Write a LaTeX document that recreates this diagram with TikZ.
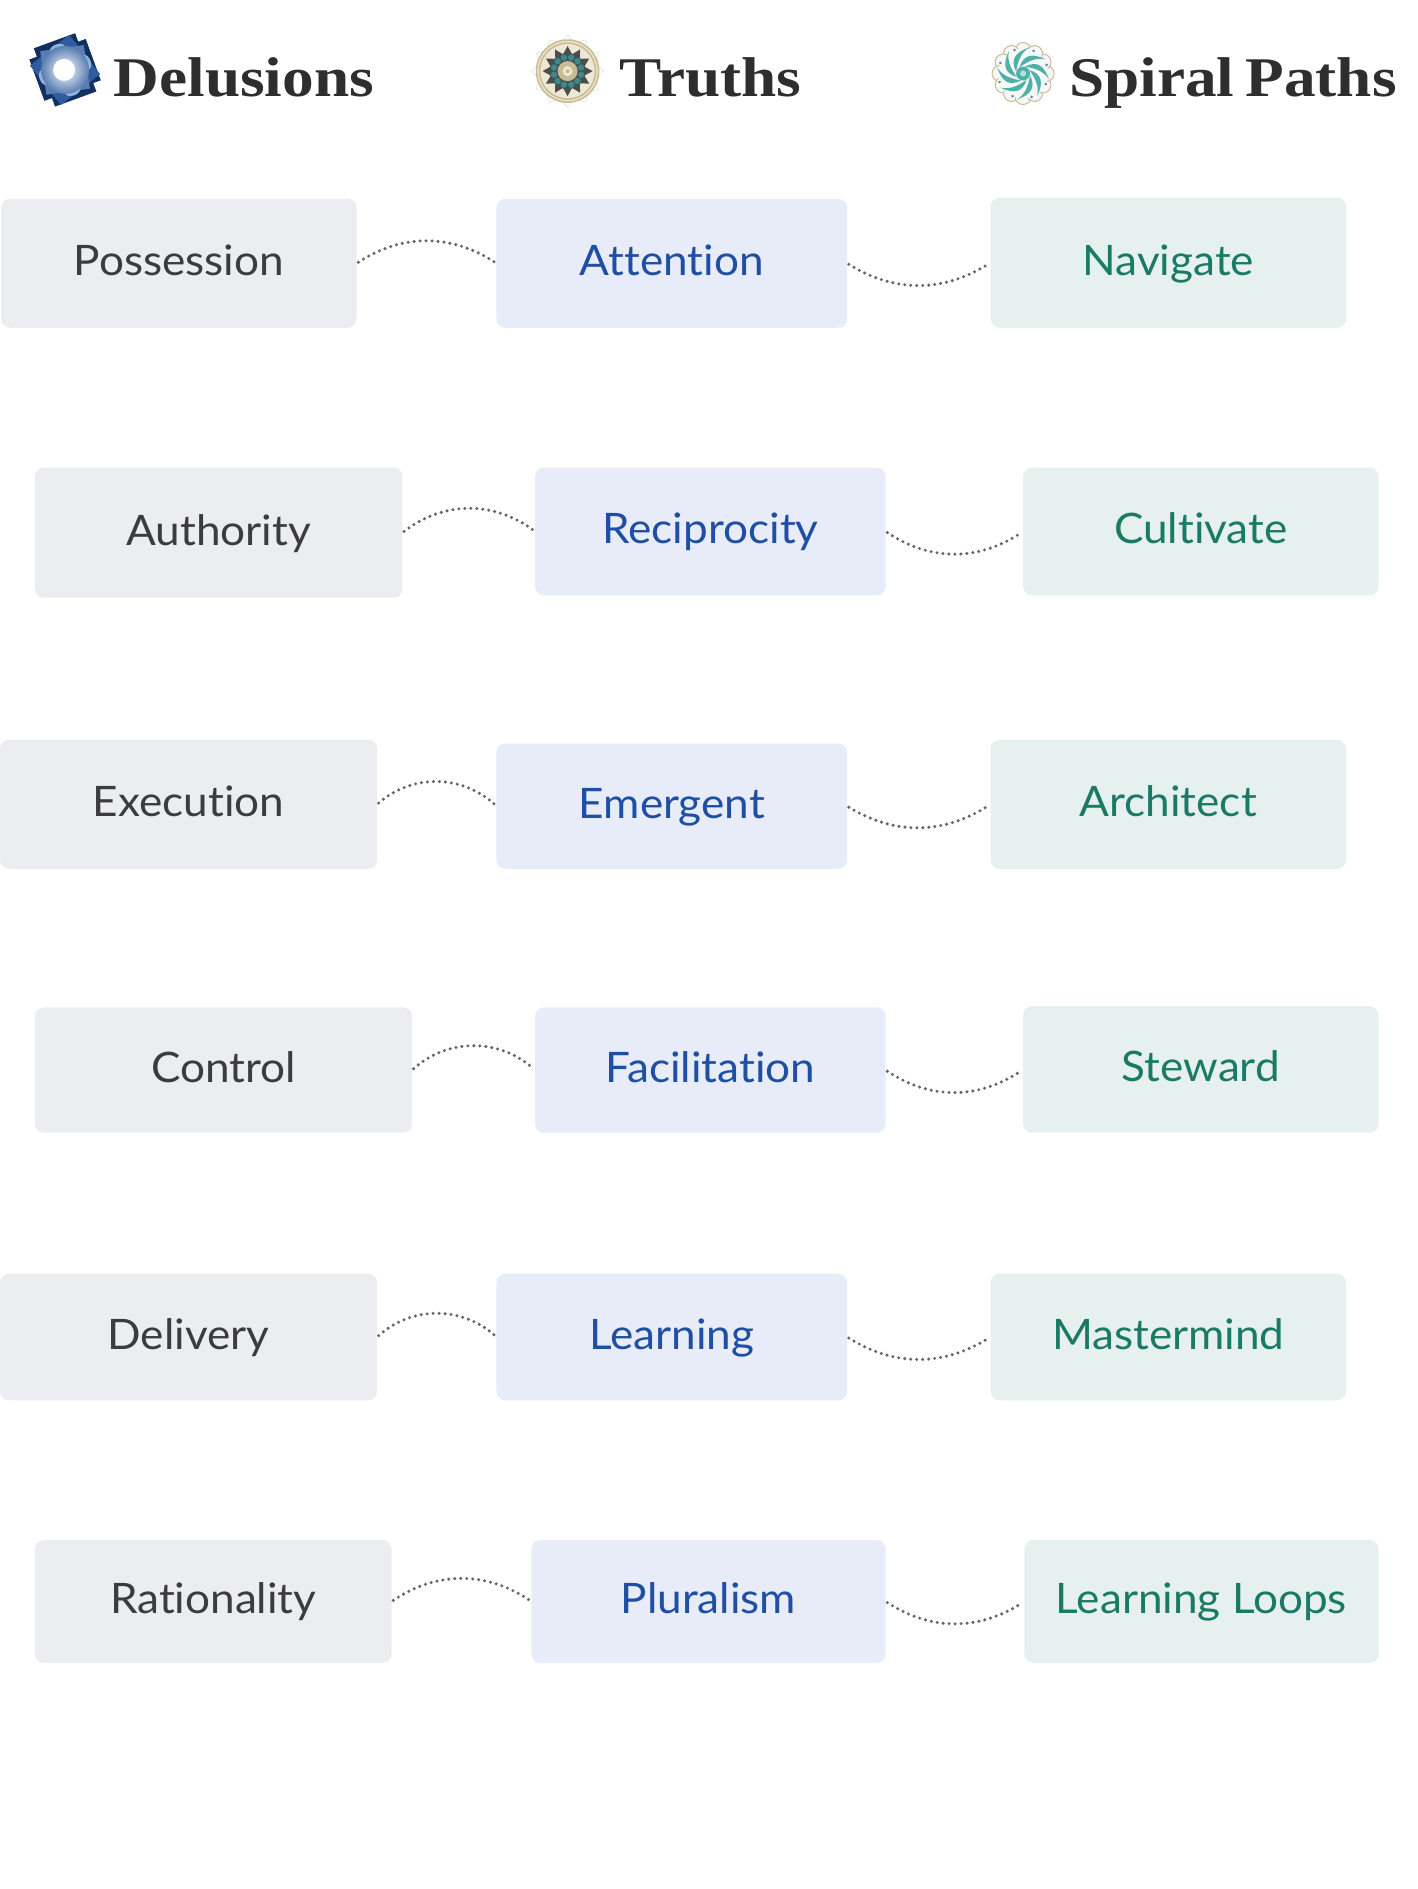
\documentclass[tikz,border=0pt]{standalone}
\usepackage{fontspec}
\setmainfont[FakeStretch=1.05,Ligatures=NoCommon]{Lato}
\newfontfamily\headfont[FakeStretch=1.13,WordSpace=0.7]{Liberation Serif}
\definecolor{inkgrey}{HTML}{3C3C40}
\definecolor{inkblue}{HTML}{1E4FA3}
\definecolor{inkgreen}{HTML}{1A7A66}
\definecolor{boxgrey}{HTML}{ECEDF1}
\definecolor{boxblue}{HTML}{E7ECF8}
\definecolor{boxgreen}{HTML}{E6F1EF}
\definecolor{gemdark}{HTML}{12305F}
\definecolor{gemmid}{HTML}{2F5C9E}
\definecolor{gemlight}{HTML}{8FB4E0}
\definecolor{sand}{HTML}{C9BC94}
\definecolor{sandpale}{HTML}{EDE7D3}
\definecolor{slate}{HTML}{4A4E50}
\definecolor{sea}{HTML}{3A8A88}
\definecolor{swirl}{HTML}{4FB0A8}
\tikzset{
  cell/.style={rounded corners=4.5pt, inner sep=0pt, outer sep=0pt,
    text height=16.2pt, text depth=3.8pt, font=\fontsize{21}{24}\selectfont},
  delusion/.style={cell, fill=boxgrey, text=inkgrey},
  truth/.style={cell, fill=boxblue, text=inkblue},
  spiral/.style={cell, fill=boxgreen, text=inkgreen},
  heading/.style={anchor=base west, inner sep=0pt, text=black!82, font=\headfont\bfseries\fontsize{28}{32}\selectfont},
  linkdots/.style={draw=black!60, line width=1.7pt, line cap=round, dash pattern=on 0pt off 3pt, shorten >=1pt, shorten <=1pt},
}
\newcommand{\boxat}[7]{% style, name, left, right, top, bottom, text
  \node[#1, minimum width={(#4-#3)*0.6025pt}, minimum height={(#6-#5)*0.6025pt}] (#2) at ({(#3+#4)/2},{(#5+#6)/2}) {#7};
}
\begin{document}
\begin{tikzpicture}[x=0.6025pt,y=-0.6025pt]
	\useasboundingbox (0,0) rectangle (1176,1567.6);

	% Headings
	\node[heading] (delusions) at (94,80) {Delusions};
	\node[heading] (truths) at (514,80) {Truths};
	\node[heading] (paths) at (887,80) {Spiral Paths};

	% Icon left
	\begin{scope}[shift={(54,58)},scale=0.83]
		\fill[gemdark, rotate=20] (-30,-22) rectangle (30,22);
		\fill[gemdark, rotate=20] (-22,-31) rectangle (22,31);
		\fill[gemmid, rotate=38] (-25,-25) rectangle (25,25);
		\fill[gemmid!80!white, rotate=8] (-22,-22) rectangle (22,22);
		\foreach \a in {20,110,200,290}
			\fill[gemlight, rotate=\a] (22,0) ellipse (5 and 8);
		\shade[inner color=white, outer color=gemmid!80!white] (0,0) circle (24);
		\fill[white] (-1,0) circle (11);
	\end{scope}

	% Icon middle
	\begin{scope}[shift={(471,59)},scale=0.83]
		\foreach \a in {0,30,...,330}
			\draw[black!10, rotate=\a] (0,-36) -- (10,-26) -- (-10,-26) -- cycle;
		\fill[sandpale] (0,0) circle (31);
		\draw[sand, line width=.8pt] (0,0) circle (31);
		\draw[sand, line width=.8pt] (0,0) circle (28);
		\foreach \a in {0,30,...,330}
			\fill[slate, rotate=\a] (0,-25) -- (6,-14) -- (-6,-14) -- cycle;
		\fill[slate] (0,0) circle (18);
		\foreach \a in {15,45,...,345}
			\fill[sea, rotate=\a] (0,-14) circle (3.2);
		\fill[sand] (0,0) circle (10);
		\fill[sandpale] (0,0) circle (5);
		\fill[sand] (0,0) circle (2);
	\end{scope}

	% Icon right
	\begin{scope}[shift={(849,61)},scale=0.83]
		\foreach \a in {0,30,...,330}
			\draw[sand, line width=.5pt, fill=black!3, rotate=\a] (0,-23) circle (8);
		\fill[black!3] (0,0) circle (25);
		\foreach \a in {0,45,...,315}
			\fill[swirl, rotate=\a] (2,-7) .. controls (14,-13) and (21,-8) .. (26,6) .. controls (20,-3) and (12,-5) .. (2,-7);
		\foreach \a in {20,65,...,335}
			\fill[gemmid!80, rotate=\a] (0,-25) circle (1.4);
		\fill[swirl] (0,0) circle (7);
		\fill[white!60!swirl] (0,0) circle (3);
	\end{scope}

	% Row 1
	\boxat{delusion}{possession}{1}{296}{165}{272}{Possession}
	\boxat{truth}{attention}{412}{703}{165}{272}{Attention}
	\boxat{spiral}{navigate}{822}{1117}{164}{272}{Navigate}
	% Row 2
	\boxat{delusion}{authority}{29}{334}{388}{496}{Authority}
	\boxat{truth}{reciprocity}{444}{735}{388}{494}{Reciprocity}
	\boxat{spiral}{cultivate}{849}{1144}{388}{494}{Cultivate}
	% Row 3
	\boxat{delusion}{execution}{0}{313}{614}{721}{Execution}
	\boxat{truth}{emergent}{412}{703}{617}{721}{Emergent}
	\boxat{spiral}{architect}{822}{1117}{614}{721}{Architect}
	% Row 4
	\boxat{delusion}{control}{29}{342}{836}{940}{Control}
	\boxat{truth}{facilitation}{444}{735}{836}{940}{Facilitation}
	\boxat{spiral}{steward}{849}{1144}{835}{940}{Steward}
	% Row 5
	\boxat{delusion}{delivery}{0}{313}{1057}{1162}{Delivery}
	\boxat{truth}{learning}{412}{703}{1057}{1162}{Learning}
	\boxat{spiral}{mastermind}{822}{1117}{1057}{1162}{Mastermind}
	% Row 6
	\boxat{delusion}{rationality}{29}{325}{1278}{1380}{Rationality}
	\boxat{truth}{pluralism}{441}{735}{1278}{1380}{Pluralism}
	\boxat{spiral}{loops}{850}{1144}{1278}{1380}{Learning Loops}

	% Links
	\foreach \d/\t/\s/\bl/\br in {possession/attention/navigate/33/32, authority/reciprocity/cultivate/37/34, execution/emergent/architect/42/32, control/facilitation/steward/42/34, delivery/learning/mastermind/42/32, rationality/pluralism/loops/34/33}{
		\draw[linkdots] (\d.east) to[bend left=\bl] (\t.west);
		\draw[linkdots] (\t.east) to[bend right=\br] (\s.west);
	}
\end{tikzpicture}
\end{document}
